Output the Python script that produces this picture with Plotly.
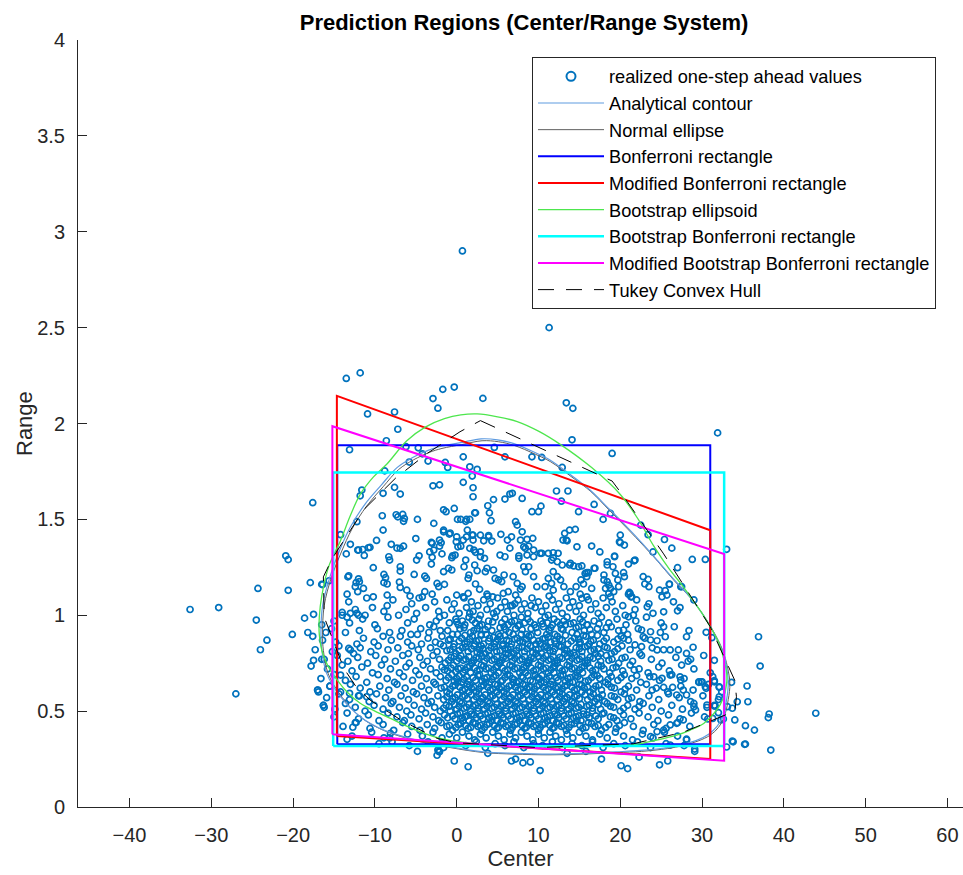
import plotly.graph_objects as go

# ---------------- data: realized one-step ahead values (Center, Range) ----------------
left_out = [(-32.6,1.03),(-29.1,1.04),(-27.0,0.59),(-24.5,0.975),(-24.3,1.14),(-24.0,0.82),(-23.2,0.87),
            (-20.9,1.31),(-20.6,1.29),(-20.6,1.13),(-20.1,0.90),(-18.6,0.985),(-18.2,0.91),(-17.9,1.17),
            (-17.6,0.89),(-17.5,1.005),(-17.8,0.735),(-17.5,0.765),(-17.0,0.61),(-16.9,0.60),(-16.3,0.53),
            (-16.2,0.52),(-16.4,1.16),(-16.5,0.95),(-16.5,0.77),(-15.5,0.63),(-17.6,1.587)]

upper = [(0.7,2.90),(11.3,2.50),(-13.5,2.235),(-11.8,2.264),(-10.9,2.05),(-7.6,2.06),(-2.9,2.13),(-2.3,2.08),
         (-1.7,2.178),(-0.3,2.19),(3.2,2.131),(13.4,2.108),(14.2,2.079),(-7.2,1.97),(-8.6,1.91),(-13.1,1.863),
         (31.9,1.951),(14.1,1.915),(19.0,1.844),(4.6,1.875),(0.8,1.826),(5.9,1.826),(9.2,1.826),(10.4,1.823),
         (12.9,1.771),(1.6,1.774),(2.5,1.761),(1.9,1.726),(0.8,1.693),(2.0,1.665),(2.0,1.618),(-6.2,1.879),
         (-4.7,1.873),(-4.2,1.842),(-5.8,1.799),(-3.5,1.804),(-1.1,1.771),(-1.4,1.797),(-8.8,1.753),(-2.9,1.675),
         (-2.1,1.68),(-7.6,1.667),(-6.9,1.632),(-9.0,1.636),(-11.8,1.623),(-11.6,1.653),(4.5,1.603),(5.9,1.606),
         (6.5,1.632),(6.8,1.636),(8.0,1.609),(12.2,1.648),(13.6,1.648),(16.8,1.578),(14.9,1.54),(17.9,1.50),
         (18.8,1.531),(22.5,1.47),(20.0,1.418),(25.4,1.395),(28.8,1.291),(30.4,1.291),(27.0,1.248),(33.0,1.344),
         (10.3,1.569),(9.2,1.54),(10.0,1.54),(3.8,1.571),(4.0,1.534),(2.3,1.534),(-0.3,1.557),(7.2,1.488),
         (7.4,1.47),(8.0,1.435),(5.4,1.422),(13.2,1.427),(13.8,1.444),(14.5,1.448),(13.5,1.388),(14.7,1.357),
         (16.5,1.361),(20.0,1.378),(20.5,1.366),(19.3,1.305),(21.7,1.284),(-12.2,1.488),(-9.1,1.519),(-9.0,1.444),
         (-7.4,1.524),(-6.6,1.526),(-6.4,1.505),(-7.2,1.513),(-6.5,1.49),(-4.8,1.50),(-2.8,1.479),(-1.6,1.435),
         (-0.8,1.429),(-1.3,1.54),(-1.6,1.55),(0.1,1.50),(0.5,1.50),(1.2,1.50),(1.6,1.50),(2.2,1.534),(1.1,1.49),
         (1.3,1.444),(2.0,1.392),(1.9,1.418),(4.2,1.493),(2.9,1.418),(3.3,1.388),(3.9,1.416),(2.3,1.328),
         (2.9,1.331),(-3.1,1.38),(-2.1,1.36),(-3.3,1.33),(-1.8,1.32),(-7.3,1.35),(-6.5,1.36),(-11.3,1.312),
         (-10.8,1.352),(-12.0,1.34),(11.8,1.30),(11.2,1.323),(10.4,1.323),(6.5,1.35),(8.8,1.36),(17.5,1.33),
         (24.0,1.33),(-5.0,1.40),(-14.2,1.42),(-13.5,1.32),(0.5,1.36),(7.6,1.31),(-0.5,1.31),(-4.6,1.31),
         (-9.8,1.39),(23.4,1.42),(26.3,1.35)]

mid_left = [(-13.3,1.20),(-11.9,1.175),(-12.4,1.149),(-11.4,1.14),(-12.1,1.123),(-13.4,1.11),(-10.2,1.096),
            (-10.2,1.248),(-12.1,1.34),(-11.5,1.343),(-10.6,1.354),(-13.0,1.37),(-8.0,1.37),(-6.9,1.349),
            (-8.3,1.305),(-8.2,1.288),(-8.9,1.213),(-8.7,1.196),(-8.9,1.17),(-8.5,1.163),(-6.9,1.253),(-6.9,1.23),
            (-6.1,1.131),(-7.0,1.173),(-6.9,1.145),(-4.9,1.288),(-5.2,1.213),(-3.9,1.204),(-3.7,1.192),(-3.0,1.302),
            (-3.1,1.267),(-2.1,1.392),(-1.9,1.378),(-3.0,1.375),(-2.8,1.34),(-1.6,1.444),(-0.9,1.423),(0.0,1.409),
            (-0.05,1.383),(-0.2,1.314),(0.15,1.357),(-0.6,1.30),(-1.0,1.245),(-0.6,1.236),(-1.6,1.227),(-2.4,1.166),
            (-2.2,1.149),(-1.5,1.161),(-3.9,1.123),(-3.0,1.11),(0.8,1.392),(1.2,1.409),(2.0,1.418),(1.6,1.349),
            (2.1,1.34),(1.1,1.288),(0.9,1.253),(2.2,1.262),(2.5,1.232),(1.5,1.21),(1.4,1.192),(2.3,1.163),
            (2.8,1.135),(2.9,1.305),(3.4,1.297),(3.7,1.245),(3.5,1.227),(4.5,1.236),(4.7,1.192),(5.1,1.184),
            (5.5,1.175),(5.8,1.21),(5.3,1.314),(5.9,1.305),(3.9,1.409),(4.3,1.387),(6.2,1.392),(6.7,1.409),
            (7.8,1.392),(8.2,1.357),(8.6,1.396),(9.3,1.401),(7.6,1.297),(8.2,1.253),(8.4,1.227),(6.9,1.201),
            (7.4,1.166),(8.0,1.149),(9.4,1.305),(8.8,1.253),(9.4,1.201),(9.8,1.149),(5.7,1.114),(6.3,1.123),
            (7.2,1.105),(7.8,1.135),(3.7,1.11),(4.4,1.096),(0.8,1.096),(1.4,1.114),(0.0,1.105),(-4.2,1.096),
            (-5.7,1.10),(-8.5,1.105),(-13.2,1.206),(-12.3,1.17),(-12.0,1.19),(-14.0,1.015),(-13.0,1.01),
            (-12.2,1.01),(-13.2,0.827),(-13.0,0.819),(-13.1,0.593),(-12.0,0.58),(-11.0,0.575),(-12.4,0.44),
            (-12.7,0.416),(-13.4,0.353),(-8.9,0.361),(-8.1,0.384),(-2.3,0.297),(-2.1,0.288),(-14.2,0.688),
            (-16.5,1.161),(-15.6,1.18)]

mid_right = [(12.8,1.595),(27.4,1.149),(26.0,1.163),(24.8,1.131),(25.5,1.128),(22.8,1.201),(23.4,1.187),
             (21.0,1.267),(21.8,1.288),(19.9,1.383),(19.3,1.309),(18.4,1.279),(19.1,1.253),(18.0,1.21),
             (18.4,1.175),(18.8,1.14),(19.4,1.218),(19.7,1.184),(20.4,1.222),(20.5,1.201),(19.8,1.149),
             (19.2,1.123),(21.0,1.11),(21.3,1.096),(16.9,1.245),(16.1,1.222),(15.2,1.184),(15.5,1.163),
             (14.6,1.149),(13.0,1.392),(13.4,1.392),(11.8,1.326),(12.4,1.323),(11.6,1.288),(12.3,1.279),
             (12.9,1.262),(13.8,1.262),(14.3,1.257),(14.9,1.253),(15.7,1.218),(15.9,1.201),(11.8,1.227),
             (12.3,1.201),(11.2,1.192),(11.6,1.166),(12.7,1.184),(10.8,1.149),(11.8,1.131),(13.1,1.149),
             (13.9,1.123),(15.1,1.11),(8.4,1.349),(9.4,1.34),(10.2,1.323),(8.6,1.314),(16.5,1.14),(18.2,1.14),
             (18.6,1.114),(18.8,1.096),(15.3,1.088),(15.9,1.096),(23.0,1.163),(23.5,1.149),(25.1,1.096),
             (25.7,1.105),(21.1,1.119),(18.0,1.184),(18.6,1.157),(16.8,1.245),(15.3,1.257),(15.9,1.222),
             (18.4,1.262),(13.9,1.271),(27.5,1.149)]

right_mid = [(23.3,1.044),(25.3,1.018),(25.3,0.94),(25.5,0.888),(26.1,0.819),(22.6,0.923),(23.7,0.914),
             (22.8,0.888),(23.7,0.871),(24.5,0.867),(24.5,0.819),(25.3,0.82),(27.1,0.819),(28.1,0.888),
             (28.9,0.833),(28.1,0.801),(28.6,0.77),(27.0,1.023),(26.0,1.161),(29.6,0.653),(30.0,0.653),
             (27.3,0.679),(27.4,0.662),(24.1,0.679),(25.1,0.671),(26.1,0.688),(23.9,0.61),(25.3,0.624),
             (26.4,0.624),(26.9,0.584),(27.7,0.61),(28.1,0.584),(29.0,0.523),(29.2,0.506),(30.4,0.627),
             (31.5,0.659),(32.1,0.627),(32.1,0.575),(31.6,0.527),(30.6,0.532),(27.7,0.454),(26.9,0.436),
             (26.1,0.428),(24.5,0.393),(25.3,0.401),(23.7,0.367),(28.1,0.354),(29.1,0.302),(26.1,0.323),
             (21.2,1.114),(21.4,1.096),(21.6,1.001),(21.0,0.992),(20.4,0.923),(20.4,0.88),(21.8,0.845),(22.6,0.836)]

right_out = [(36.9,0.888),(37.1,0.735),(30.5,0.911),(31.2,0.883),(31.5,0.765),(29.9,0.653),(30.5,0.619),
             (31.5,0.653),(32.1,0.624),(33.6,0.65),(35.5,0.631),(34.3,0.549),(35.6,0.549),(31.5,0.527),
             (33.1,0.523),(33.7,0.515),(32.0,0.492),(30.7,0.459),(31.3,0.462),(32.3,0.454),(32.6,0.459),
             (34.0,0.454),(35.3,0.424),(36.4,0.401),(38.2,0.485),(38.1,0.466),(43.9,0.489),(33.7,0.344),
             (33.0,0.313),(35.2,0.327),(38.4,0.297),(35.3,0.328),(33.8,0.34)]

b105 = [(-13.2,1.07),(-11.0,1.09),(-8.5,1.05),(-7.8,1.08),(-5.5,1.06),(-4.6,1.09),(-2.7,1.07),(-1.2,1.08),
        (-0.3,1.06),(0.9,1.09),(1.8,1.07),(2.6,1.05),(3.3,1.08),(3.8,1.10),(4.1,1.06),(5.0,1.09),(5.9,1.07),
        (6.8,1.05),(7.1,1.06),(7.5,1.08),(8.3,1.06),(9.2,1.09),(10.0,1.07),(10.9,1.05),(11.3,1.10),(11.7,1.08),
        (12.5,1.06),(13.4,1.09),(14.2,1.07),(15.0,1.05),(16.1,1.08),(17.0,1.06),(17.9,1.09),(19.0,1.07),
        (20.3,1.05),(22.0,1.08),(23.5,1.06),(26.5,1.07),(29.0,1.08)]

b100 = [(-14.0,1.00),(-13.4,0.99),(-12.4,1.03),(-12.0,1.00),(-11.2,1.00),(-10.3,1.04),(-8.9,1.02),(-7.1,1.00),
        (-6.2,1.03),(-4.9,1.01),(-3.8,1.04),(-2.2,1.02),(-1.5,1.00),(-0.6,1.03),(0.3,1.01),(1.2,1.04),(1.6,1.01),
        (2.0,1.02),(2.9,1.00),(3.7,1.03),(4.5,1.01),(4.9,1.02),(5.4,1.04),(6.2,1.02),(6.6,1.05),(7.0,1.00),
        (7.9,1.03),(8.7,1.01),(9.1,1.05),(9.6,1.04),(10.4,1.02),(11.2,1.00),(12.1,1.03),(12.9,1.01),(13.8,1.04),
        (14.6,1.02),(15.5,1.00),(16.4,1.03),(17.3,1.01),(18.3,1.04),(19.4,1.02),(20.6,1.00),(21.8,1.03),
        (24.0,1.01),(27.3,1.04)]

b095 = [(-15.0,0.97),(-13.1,0.96),(-11.5,0.98),(-10.0,0.95),(-8.4,0.99),(-6.0,0.96),(-5.2,0.98),(-3.3,0.95),
        (-2.5,0.97),(-2.1,0.99),(-0.9,0.96),(-0.1,0.98),(0.2,0.95),(0.7,0.97),(1.5,0.99),(2.3,0.96),(2.7,0.98),
        (3.1,0.95),(3.9,0.97),(4.7,0.99),(5.5,0.96),(5.9,0.98),(6.3,0.95),(7.1,0.97),(7.9,0.99),(8.3,0.96),
        (8.7,0.98),(9.5,0.95),(10.3,0.97),(10.8,0.99),(11.1,0.96),(11.9,0.98),(12.7,0.95),(13.1,0.97),
        (13.5,0.99),(14.3,0.96),(15.1,0.98),(15.9,0.95),(16.8,0.97),(17.7,0.99),(18.6,0.96),(19.6,0.98),
        (20.7,0.95),(21.9,0.97),(23.2,0.99),(25.0,0.96)]

b090 = [(-16.0,0.91),(-15.3,0.93),(-13.6,0.91),(-11.9,0.92),(-9.7,0.93),(-8.2,0.91),(-6.7,0.92),(-5.6,0.90),
        (-4.4,0.93),(-3.4,0.91),(-2.8,0.94),(-2.0,0.92),(-1.1,0.92),(-0.5,0.90),(0.4,0.93),(1.0,0.95),(1.7,0.91),
        (2.1,0.92),(2.5,0.93),(3.0,0.90),(3.8,0.94),(4.3,0.92),(5.1,0.90),(5.8,0.94),(6.4,0.91),(6.9,0.90),
        (7.2,0.93),(7.7,0.95),(8.5,0.90),(9.1,0.93),(9.9,0.91),(10.6,0.94),(11.3,0.92),(11.7,0.95),(12.0,0.90),
        (12.8,0.93),(13.3,0.95),(14.1,0.91),(14.9,0.94),(15.6,0.92),(16.0,0.95),(16.5,0.90),(17.2,0.93),
        (18.0,0.91),(18.9,0.94),(19.8,0.92),(20.9,0.90),(22.2,0.93),(24.9,0.91),(26.6,0.94),(28.4,0.92)]

b085 = [(-16.4,0.87),(-14.8,0.86),(-12.2,0.85),(-11.4,0.88),(-10.1,0.86),(-9.0,0.89),(-8.0,0.87),(-6.9,0.89),
        (-6.0,0.86),(-4.8,0.90),(-4.3,0.85),(-3.5,0.88),(-2.6,0.86),(-1.8,0.89),(-1.0,0.87),(-0.3,0.85),
        (0.1,0.90),(0.6,0.88),(1.3,0.86),(1.9,0.89),(2.2,0.85),(2.7,0.87),(3.3,0.85),(3.6,0.90),(4.0,0.88),
        (4.8,0.86),(5.3,0.89),(5.7,0.85),(6.1,0.87),(6.7,0.85),(7.4,0.88),(7.9,0.90),(8.1,0.86),(8.8,0.89),
        (9.4,0.87),(9.7,0.85),(10.2,0.85),(10.8,0.88),(11.0,0.90),(11.5,0.86),(12.3,0.89),(12.9,0.87),
        (13.6,0.85),(14.4,0.88),(14.7,0.90),(15.1,0.86),(15.8,0.89),(16.2,0.85),(16.7,0.87),(17.5,0.85),
        (18.3,0.88),(19.2,0.86),(20.1,0.89),(21.0,0.87),(23.0,0.88)]

b080 = [(-17.3,0.82),(-15.2,0.81),(-14.4,0.84),(-12.6,0.80),(-11.8,0.83),(-10.5,0.81),(-9.6,0.84),(-8.4,0.82),
        (-7.2,0.83),(-5.9,0.80),(-5.5,0.84),(-4.7,0.82),(-3.2,0.83),(-2.4,0.81),(-2.0,0.85),(-1.6,0.84),
        (-0.8,0.82),(-0.1,0.80),(0.7,0.83),(1.0,0.85),(1.4,0.81),(2.1,0.84),(2.8,0.82),(3.0,0.84),(3.5,0.80),
        (4.2,0.83),(4.6,0.85),(4.9,0.81),(5.6,0.84),(6.0,0.80),(6.3,0.82),(7.0,0.80),(7.6,0.83),(8.3,0.81),
        (8.7,0.85),(9.0,0.84),(9.7,0.82),(10.4,0.80),(10.9,0.84),(11.1,0.83),(11.8,0.81),(12.1,0.85),
        (12.5,0.84),(13.2,0.82),(13.9,0.80),(14.6,0.83),(15.0,0.85),(15.3,0.81),(16.0,0.84),(16.8,0.82),
        (17.6,0.80),(18.4,0.83),(18.9,0.80),(19.3,0.81),(20.2,0.84),(21.2,0.82),(22.4,0.80),(23.9,0.83)]

b075 = [(-16.2,0.77),(-14.6,0.79),(-13.3,0.76),(-12.1,0.78),(-10.9,0.75),(-9.9,0.79),(-8.8,0.77),(-7.5,0.76),
        (-6.6,0.79),(-5.8,0.75),(-4.5,0.78),(-3.6,0.76),(-2.9,0.79),(-2.1,0.77),(-1.4,0.75),(-0.7,0.78),
        (0.0,0.76),(0.5,0.79),(1.1,0.77),(1.8,0.75),(2.4,0.78),(2.9,0.80),(3.4,0.76),(4.0,0.79),(4.6,0.77),
        (5.2,0.75),(5.7,0.78),(6.3,0.80),(6.8,0.76),(7.4,0.79),(8.0,0.77),(8.6,0.75),(9.1,0.78),(9.7,0.80),
        (10.3,0.76),(10.9,0.79),(11.5,0.77),(12.0,0.75),(12.6,0.78),(13.2,0.80),(13.8,0.76),(14.4,0.79),
        (15.0,0.77),(15.7,0.75),(16.3,0.78),(17.0,0.80),(17.6,0.76),(18.3,0.79),(19.0,0.77),(19.8,0.75),
        (20.6,0.78),(21.5,0.76),(22.6,0.79),(23.8,0.77),(25.1,0.75),(26.8,0.78),(28.3,0.76),(30.2,0.79)]

b070 = [(-15.8,0.72),(-14.0,0.74),(-12.8,0.71),(-11.6,0.73),(-10.3,0.70),(-9.2,0.74),(-8.1,0.72),(-7.0,0.70),
        (-6.2,0.73),(-5.0,0.71),(-4.1,0.74),(-3.2,0.72),(-2.5,0.70),(-1.8,0.73),(-1.1,0.71),(-0.4,0.74),
        (0.2,0.72),(0.8,0.70),(1.3,0.73),(1.9,0.75),(2.5,0.71),(3.0,0.74),(3.6,0.72),(4.2,0.70),(4.8,0.73),
        (5.3,0.75),(5.9,0.71),(6.5,0.74),(7.1,0.72),(7.7,0.70),(8.2,0.73),(8.8,0.75),(9.4,0.71),(10.0,0.74),
        (10.6,0.72),(11.2,0.70),(11.8,0.73),(12.3,0.75),(12.9,0.71),(13.5,0.74),(14.1,0.72),(14.7,0.70),
        (15.3,0.73),(16.0,0.75),(16.6,0.71),(17.3,0.74),(18.0,0.72),(18.7,0.70),(19.5,0.73),(20.3,0.71),
        (21.2,0.74),(22.3,0.72),(23.4,0.70),(24.7,0.73),(26.0,0.71),(27.5,0.74),(29.0,0.72),(31.0,0.70)]

b065 = [(-16.6,0.67),(-15.0,0.69),(-13.6,0.66),(-12.3,0.68),(-11.0,0.65),(-9.6,0.69),(-8.5,0.67),(-7.6,0.65),
        (-6.5,0.68),(-5.4,0.66),(-4.6,0.69),(-3.7,0.67),(-2.8,0.65),(-2.0,0.68),(-1.3,0.66),(-0.6,0.69),
        (0.0,0.67),(0.6,0.65),(1.2,0.68),(1.7,0.70),(2.3,0.66),(2.8,0.69),(3.4,0.67),(4.0,0.65),(4.5,0.68),
        (5.1,0.70),(5.6,0.66),(6.2,0.69),(6.8,0.67),(7.3,0.65),(7.9,0.68),(8.4,0.70),(9.0,0.66),(9.6,0.69),
        (10.1,0.67),(10.7,0.65),(11.3,0.68),(11.9,0.70),(12.4,0.66),(13.0,0.69),(13.6,0.67),(14.2,0.65),
        (14.8,0.68),(15.4,0.70),(16.1,0.66),(16.8,0.69),(17.5,0.67),(18.2,0.65),(18.9,0.68),(19.7,0.66),
        (20.5,0.69),(21.4,0.67),(22.5,0.65),(23.6,0.68),(24.8,0.66),(26.3,0.69),(27.8,0.67),(29.6,0.65),(31.3,0.68)]

b060 = [(-17.0,0.61),(-15.5,0.63),(-14.2,0.60),(-13.0,0.64),(-11.8,0.62),(-10.6,0.60),(-9.4,0.63),(-8.3,0.61),
        (-7.3,0.64),(-6.3,0.62),(-5.3,0.60),(-4.3,0.63),(-3.4,0.61),(-2.6,0.64),(-1.9,0.62),(-1.2,0.60),
        (-0.5,0.63),(0.1,0.65),(0.7,0.61),(1.3,0.64),(1.8,0.62),(2.4,0.60),(3.0,0.63),(3.5,0.65),(4.1,0.61),
        (4.7,0.64),(5.2,0.62),(5.8,0.60),(6.4,0.63),(6.9,0.65),(7.5,0.61),(8.1,0.64),(8.6,0.62),(9.2,0.60),
        (9.8,0.63),(10.3,0.65),(10.9,0.61),(11.5,0.64),(12.1,0.62),(12.6,0.60),(13.2,0.63),(13.8,0.65),
        (14.4,0.61),(15.0,0.64),(15.6,0.62),(16.3,0.60),(17.0,0.63),(17.7,0.61),(18.5,0.64),(19.3,0.62),
        (20.1,0.60),(21.0,0.63),(22.0,0.61),(23.2,0.64),(24.4,0.62),(25.8,0.60),(27.4,0.63),(28.9,0.61),
        (30.8,0.64),(32.4,0.60)]

b055 = [(-15.9,0.57),(-14.4,0.59),(-13.1,0.56),(-11.9,0.58),(-10.7,0.55),(-9.8,0.59),(-8.7,0.57),(-7.8,0.55),
        (-6.8,0.58),(-5.9,0.56),(-4.9,0.59),(-4.0,0.57),(-3.1,0.55),(-2.3,0.58),(-1.6,0.56),(-0.9,0.59),
        (-0.2,0.57),(0.4,0.55),(1.0,0.58),(1.5,0.60),(2.1,0.56),(2.7,0.59),(3.2,0.57),(3.8,0.55),(4.4,0.58),
        (4.9,0.60),(5.5,0.56),(6.1,0.59),(6.6,0.57),(7.2,0.55),(7.8,0.58),(8.3,0.60),(8.9,0.56),(9.5,0.59),
        (10.0,0.57),(10.6,0.55),(11.2,0.58),(11.7,0.60),(12.3,0.56),(12.9,0.59),(13.5,0.57),(14.1,0.55),
        (14.7,0.58),(15.3,0.60),(16.0,0.56),(16.7,0.59),(17.4,0.57),(18.1,0.55),(18.9,0.58),(19.7,0.56),
        (20.5,0.59),(21.4,0.57),(22.4,0.55),(23.5,0.58),(24.7,0.56),(25.9,0.59),(27.2,0.57),(28.6,0.55),
        (30.1,0.58),(32.0,0.56)]

b050 = [(-16.3,0.53),(-14.9,0.51),(-13.6,0.54),(-12.4,0.52),(-11.2,0.50),(-10.1,0.53),(-9.0,0.51),(-8.0,0.54),
        (-7.0,0.52),(-6.1,0.50),(-5.2,0.53),(-4.3,0.51),(-3.5,0.54),(-2.7,0.52),(-2.0,0.50),(-1.3,0.53),
        (-0.6,0.55),(0.0,0.51),(0.6,0.54),(1.2,0.52),(1.7,0.50),(2.3,0.53),(2.9,0.55),(3.4,0.51),(4.0,0.54),
        (4.6,0.52),(5.1,0.50),(5.7,0.53),(6.3,0.55),(6.8,0.51),(7.4,0.54),(8.0,0.52),(8.5,0.50),(9.1,0.53),
        (9.7,0.55),(10.2,0.51),(10.8,0.54),(11.4,0.52),(11.9,0.50),(12.5,0.53),(13.1,0.55),(13.7,0.51),
        (14.3,0.54),(14.9,0.52),(15.5,0.50),(16.2,0.53),(16.9,0.55),(17.6,0.51),(18.4,0.54),(19.2,0.52),
        (20.0,0.50),(20.9,0.53),(21.8,0.51),(22.8,0.54),(23.9,0.52),(25.0,0.50),(26.3,0.53),(27.6,0.51),
        (29.0,0.54),(30.6,0.52),(31.5,0.53)]

b045 = [(-15.0,0.47),(-13.4,0.49),(-12.0,0.46),(-10.8,0.48),(-9.5,0.45),(-8.4,0.49),(-7.3,0.47),(-6.4,0.45),
        (-5.6,0.48),(-4.6,0.46),(-3.8,0.49),(-2.9,0.47),(-2.2,0.45),(-1.5,0.48),(-0.8,0.50),(-0.2,0.46),
        (0.4,0.49),(1.0,0.47),(1.5,0.45),(2.1,0.48),(2.6,0.50),(3.2,0.46),(3.8,0.49),(4.3,0.47),(4.9,0.45),
        (5.5,0.48),(6.0,0.50),(6.6,0.46),(7.2,0.49),(7.7,0.47),(8.3,0.45),(8.9,0.48),(9.4,0.50),(10.0,0.46),
        (10.6,0.49),(11.1,0.47),(11.7,0.45),(12.3,0.48),(12.8,0.50),(13.4,0.46),(14.0,0.49),(14.6,0.47),
        (15.2,0.45),(15.9,0.48),(16.6,0.50),(17.3,0.46),(18.0,0.49),(18.8,0.47),(19.6,0.45),(20.4,0.48),
        (21.3,0.46),(22.3,0.49),(23.4,0.47),(24.6,0.45),(25.9,0.48),(27.3,0.46),(28.7,0.49),(30.3,0.47)]

b040 = [(-13.9,0.42),(-12.3,0.44),(-10.6,0.41),(-9.0,0.43),(-7.7,0.40),(-6.6,0.44),(-5.5,0.42),(-4.5,0.40),
        (-3.6,0.43),(-2.7,0.41),(-1.9,0.44),(-1.2,0.42),(-0.5,0.40),(0.2,0.43),(0.8,0.45),(1.4,0.41),(2.0,0.44),
        (2.6,0.42),(3.1,0.40),(3.7,0.43),(4.3,0.45),(4.9,0.41),(5.4,0.44),(6.0,0.42),(6.6,0.40),(7.1,0.43),
        (7.7,0.45),(8.3,0.41),(8.8,0.44),(9.4,0.42),(10.0,0.40),(10.5,0.43),(11.1,0.45),(11.7,0.41),(12.2,0.44),
        (12.8,0.42),(13.4,0.40),(14.0,0.43),(14.7,0.45),(15.4,0.41),(16.1,0.44),(16.9,0.42),(17.7,0.40),
        (18.6,0.43),(19.5,0.41),(20.5,0.44),(21.6,0.42),(22.8,0.40),(24.1,0.43),(25.6,0.41),(27.0,0.44),(28.5,0.42)]

b035 = [(-12.8,0.37),(-10.4,0.39),(-8.2,0.36),(-6.0,0.38),(-4.2,0.37),(-2.9,0.39),(-1.8,0.36),(-0.9,0.38),
        (0.0,0.36),(0.7,0.39),(1.5,0.37),(2.2,0.35),(2.9,0.38),(3.6,0.36),(4.4,0.39),(5.1,0.37),(5.8,0.35),
        (6.5,0.38),(7.2,0.36),(7.9,0.39),(8.6,0.37),(9.3,0.35),(10.0,0.38),(10.7,0.36),(11.4,0.39),(12.1,0.37),
        (12.8,0.35),(13.5,0.38),(14.2,0.36),(15.0,0.39),(15.8,0.37),(16.6,0.35),(17.5,0.38),(18.4,0.36),
        (19.4,0.39),(20.4,0.37),(21.5,0.35),(22.7,0.38),(24.0,0.36),(25.4,0.39),(27.0,0.37),(28.1,0.35)]

b030 = [(-9.5,0.33),(-7.9,0.34),(-5.8,0.32),(-3.5,0.34),(-1.6,0.31),(-0.2,0.33),(1.1,0.32),(2.4,0.34),(3.5,0.31),
        (4.7,0.33),(5.9,0.32),(7.0,0.34),(8.2,0.31),(9.4,0.33),(10.5,0.32),(11.7,0.34),(12.9,0.31),(14.1,0.33),
        (15.3,0.32),(16.6,0.34),(17.9,0.31),(19.2,0.33),(20.6,0.32),(22.1,0.34),(23.7,0.31),(25.6,0.33),(27.8,0.32)]

b020 = [(-2.4,0.27),(-2.2,0.29),(-0.3,0.24),(1.4,0.21),(6.7,0.24),(7.2,0.25),(8.1,0.23),(9.0,0.235),(10.2,0.19),
        (17.7,0.25),(20.1,0.215),(20.9,0.20),(22.3,0.26),(24.8,0.22),(25.8,0.24),(29.1,0.29),(-4.8,0.29),
        (13.5,0.28),(3.8,0.28),(15.8,0.29)]

# dense core (second layer of values read in the darkest part of the cloud)
core_a = [(0.0,0.965),(0.9,0.935),(1.9,0.975),(2.8,0.945),(3.5,0.925),(4.4,0.965),(5.3,0.935),(6.0,0.925),
          (6.7,0.965),(7.5,0.945),(8.0,0.925),(9.0,0.965),(9.7,0.935),(10.5,0.955),(11.5,0.935),(12.3,0.965),
          (13.0,0.925),(13.9,0.955),(14.6,0.935),(15.4,0.965),(16.3,0.925),(17.4,0.955),(18.3,0.935)]
core_b = [(-0.8,0.875),(0.3,0.865),(1.0,0.895),(1.6,0.875),(2.4,0.865),(3.0,0.895),(3.9,0.865),(4.5,0.885),
          (5.0,0.875),(5.9,0.895),(6.4,0.865),(7.1,0.875),(7.7,0.865),(8.5,0.875),(9.1,0.895),(10.0,0.865),
          (10.5,0.875),(11.2,0.885),(12.0,0.865),(12.6,0.875),(13.3,0.895),(14.0,0.865),(14.9,0.875),
          (15.5,0.895),(16.4,0.865),(17.2,0.895),(18.0,0.865),(19.7,0.875)]
core_c = [(-1.2,0.815),(-0.4,0.835),(0.3,0.815),(1.1,0.835),(1.8,0.825),(2.5,0.805),(3.2,0.825),(3.9,0.815),
          (4.6,0.835),(5.3,0.815),(5.9,0.825),(6.6,0.835),(7.3,0.815),(8.0,0.835),(8.6,0.825),(9.3,0.805),
          (10.0,0.825),(10.7,0.835),(11.4,0.815),(12.0,0.825),(12.8,0.835),(13.5,0.815),(14.3,0.805),
          (15.0,0.825),(15.7,0.835),(16.4,0.815),(17.3,0.825),(18.1,0.835),(19.7,0.825)]
core_d = [(-1.0,0.765),(-0.3,0.785),(0.3,0.775),(0.8,0.765),(1.5,0.785),(2.1,0.765),(2.7,0.775),(3.1,0.785),
          (3.7,0.775),(4.3,0.765),(4.9,0.785),(5.5,0.765),(6.0,0.775),(6.6,0.785),(7.1,0.775),(7.7,0.765),
          (8.3,0.785),(8.9,0.765),(9.4,0.775),(10.0,0.785),(10.6,0.775),(11.2,0.765),(11.8,0.785),(12.3,0.765),
          (12.9,0.775),(13.5,0.785),(14.1,0.775),(14.7,0.765),(15.3,0.785),(16.0,0.765),(16.7,0.775),
          (17.3,0.785),(18.6,0.765),(20.2,0.775)]
core_e = [(-1.5,0.715),(-0.7,0.725),(-0.1,0.705),(0.5,0.725),(1.0,0.715),(1.6,0.735),(2.2,0.725),(2.8,0.715),
          (3.3,0.735),(3.9,0.725),(4.5,0.715),(5.0,0.735),(5.6,0.725),(6.2,0.715),(6.8,0.735),(7.4,0.725),
          (8.0,0.715),(8.5,0.735),(9.1,0.725),(9.7,0.715),(10.3,0.735),(10.9,0.725),(11.5,0.715),(12.0,0.735),
          (12.6,0.725),(13.2,0.715),(13.8,0.735),(14.4,0.725),(15.0,0.715),(15.6,0.735),(16.3,0.725),
          (17.0,0.715),(17.7,0.735),(19.1,0.725),(21.7,0.715)]
core_f = [(-1.0,0.675),(-0.3,0.655),(0.3,0.685),(0.9,0.665),(1.4,0.655),(2.0,0.675),(2.6,0.685),(3.1,0.655),
          (3.7,0.675),(4.3,0.665),(4.8,0.685),(5.4,0.655),(5.9,0.675),(6.5,0.685),(7.0,0.665),(7.6,0.655),
          (8.1,0.675),(8.7,0.685),(9.3,0.655),(9.9,0.675),(10.4,0.685),(11.0,0.665),(11.6,0.655),(12.2,0.675),
          (12.7,0.685),(13.3,0.655),(13.9,0.675),(14.5,0.685),(15.1,0.665),(15.7,0.655),(16.5,0.675),
          (17.2,0.685),(18.5,0.665),(20.1,0.675),(22.0,0.685)]
core_g = [(-1.5,0.625),(-0.8,0.615),(-0.2,0.635),(0.4,0.625),(1.0,0.615),(1.6,0.635),(2.1,0.625),(2.7,0.615),
          (3.3,0.635),(3.8,0.625),(4.4,0.615),(5.0,0.635),(5.5,0.625),(6.1,0.615),(6.7,0.635),(7.2,0.625),
          (7.8,0.615),(8.4,0.635),(8.9,0.625),(9.5,0.615),(10.1,0.635),(10.6,0.625),(11.2,0.615),(11.8,0.635),
          (12.4,0.625),(12.9,0.615),(13.5,0.635),(14.1,0.625),(14.7,0.615),(15.3,0.635),(16.0,0.625),
          (16.7,0.615),(17.4,0.635),(18.9,0.625),(20.6,0.615)]
core_h = [(-1.2,0.575),(-0.5,0.565),(0.1,0.585),(0.7,0.575),(1.3,0.565),(1.8,0.585),(2.4,0.575),(3.0,0.565),
          (3.5,0.585),(4.1,0.575),(4.7,0.565),(5.2,0.585),(5.8,0.575),(6.4,0.565),(6.9,0.585),(7.5,0.575),
          (8.1,0.565),(8.6,0.585),(9.2,0.575),(9.8,0.565),(10.3,0.585),(10.9,0.575),(11.5,0.565),(12.0,0.585),
          (12.6,0.575),(13.2,0.565),(13.8,0.585),(14.4,0.575),(15.0,0.565),(15.7,0.585),(16.4,0.575),
          (17.1,0.565),(17.8,0.585),(19.3,0.575),(21.0,0.565)]
core_i = [(-1.6,0.515),(-0.9,0.525),(-0.3,0.535),(0.3,0.525),(0.9,0.515),(1.5,0.535),(2.0,0.525),(2.6,0.515),
          (3.2,0.535),(3.7,0.525),(4.3,0.515),(4.9,0.535),(5.4,0.525),(6.0,0.515),(6.6,0.535),(7.1,0.525),
          (7.7,0.515),(8.3,0.535),(8.8,0.525),(9.4,0.515),(10.0,0.535),(10.5,0.525),(11.1,0.515),(11.7,0.535),
          (12.2,0.525),(12.8,0.515),(13.4,0.535),(14.0,0.525),(14.6,0.515),(15.2,0.535),(15.9,0.525),
          (16.6,0.515),(17.3,0.535),(18.8,0.525),(20.4,0.515),(22.3,0.525)]
core_j = [(-1.1,0.465),(-0.5,0.475),(0.1,0.485),(0.7,0.465),(1.2,0.475),(1.8,0.485),(2.4,0.465),(2.9,0.475),
          (3.5,0.485),(4.0,0.465),(4.6,0.475),(5.2,0.485),(5.7,0.465),(6.3,0.475),(6.9,0.485),(7.4,0.465),
          (8.0,0.475),(8.6,0.485),(9.1,0.465),(9.7,0.475),(10.3,0.485),(10.8,0.465),(11.4,0.475),(12.0,0.485),
          (12.5,0.465),(13.1,0.475),(13.7,0.485),(14.3,0.465),(14.9,0.475),(15.5,0.485),(16.2,0.465),
          (17.0,0.475),(17.8,0.485),(19.2,0.465)]
core_k = [(-0.9,0.425),(-0.1,0.415),(0.5,0.435),(1.1,0.425),(1.7,0.415),(2.3,0.435),(2.9,0.425),(3.4,0.415),
          (4.0,0.435),(4.6,0.425),(5.1,0.415),(5.7,0.435),(6.3,0.425),(6.8,0.415),(7.4,0.435),(8.0,0.425),
          (8.5,0.415),(9.1,0.435),(9.7,0.425),(10.2,0.415),(10.8,0.435),(11.4,0.425),(11.9,0.415),(12.5,0.435),
          (13.1,0.425),(13.7,0.415),(14.4,0.435),(15.1,0.425),(15.8,0.415),(16.5,0.435),(17.3,0.425),
          (18.2,0.415),(19.9,0.425)]

# ---------------- data: prediction regions (Center, Range) vertices ----------------
analytical = [(-16.6,0.90),(-16.4,1.05),(-15.5,1.20),(-14.3,1.34),(-13.0,1.46),(-11.2,1.58),(-9.2,1.68),(-7.3,1.77),
              (-5.5,1.82),(-3.5,1.86),(-2.0,1.88),(0.5,1.90),(3.0,1.92),(5.0,1.915),(6.9,1.896),(9.5,1.85),
              (11.4,1.81),(14.0,1.73),(16.3,1.653),(18.5,1.56),(20.8,1.461),(22.8,1.37),(24.5,1.288),(26.5,1.19),
              (28.5,1.096),(30.0,1.01),(31.3,0.92),(32.4,0.82),(33.0,0.73),(33.2,0.645),(33.0,0.56),(32.5,0.47),
              (31.8,0.419),(30.8,0.38),(29.4,0.349),(27.5,0.325),(25.7,0.309),(22.5,0.295),(19.6,0.288),
              (15.5,0.28),(11.4,0.276),(7.0,0.28),(3.3,0.288),(-0.8,0.314),(-4.9,0.349),(-8.9,0.401),
              (-11.8,0.471),(-14.2,0.575),(-15.9,0.697),(-16.5,0.819),(-16.6,0.90)]

normal_ellipse = [(-16.4,0.90),(-16.2,1.05),(-15.3,1.20),(-14.1,1.33),(-12.8,1.45),(-11.0,1.57),(-9.0,1.67),
                  (-7.1,1.76),(-5.3,1.81),(-3.3,1.85),(-1.8,1.87),(0.6,1.89),(3.1,1.91),(5.1,1.905),(7.0,1.886),
                  (9.6,1.84),(11.5,1.80),(14.1,1.72),(16.4,1.645),(18.6,1.55),(20.9,1.45),(22.9,1.36),(24.6,1.28),
                  (26.6,1.18),(28.6,1.09),(30.1,1.005),(31.4,0.915),(32.5,0.82),(33.1,0.73),(33.4,0.645),(33.2,0.56),
                  (32.7,0.47),(32.0,0.415),(31.0,0.375),(29.5,0.344),(27.6,0.32),(25.8,0.305),(22.6,0.29),
                  (19.6,0.284),(15.5,0.276),(11.4,0.272),(7.0,0.276),(3.3,0.284),(-0.8,0.31),(-4.9,0.345),
                  (-8.8,0.397),(-11.7,0.467),(-14.0,0.572),(-15.7,0.694),(-16.3,0.817),(-16.4,0.90)]

bonferroni = [(-14.6,0.327),(-14.6,1.887),(31.0,1.887),(31.0,0.327),(-14.6,0.327)]
mod_bonferroni = [(-14.65,0.370),(-14.65,2.144),(31.0,1.443),(31.0,0.250),(-14.65,0.370)]
boot_ellipsoid = [(-16.8,0.99),(-16.5,1.10),(-15.6,1.26),(-14.2,1.39),(-13.0,1.52),(-11.8,1.63),(-10.2,1.72),
                  (-8.5,1.79),(-6.1,1.91),(-3.9,1.98),(-1.5,2.025),(0.5,2.045),(2.5,2.05),(5.0,2.035),(7.4,2.01),
                  (10.0,1.96),(12.7,1.89),(16.5,1.77),(20.0,1.63),(22.2,1.50),(24.1,1.36),(26.0,1.24),(27.5,1.16),
                  (28.5,1.10),(30.0,1.01),(31.0,0.94),(32.0,0.86),(32.6,0.78),(33.0,0.70),(33.0,0.645),(32.6,0.57),
                  (31.8,0.506),(30.2,0.436),(28.5,0.40),(26.9,0.375),(24.0,0.345),(22.0,0.327),(18.0,0.318),
                  (14.0,0.313),(11.0,0.314),(7.0,0.318),(3.3,0.327),(-0.5,0.345),(-2.8,0.367),(-5.5,0.41),
                  (-8.1,0.462),(-10.0,0.50),(-11.8,0.541),(-13.4,0.60),(-14.6,0.662),(-15.8,0.74),(-16.5,0.819),
                  (-16.8,0.90),(-16.8,0.99)]
boot_bonferroni = [(-15.1,0.318),(-15.1,1.745),(32.7,1.745),(32.7,0.318),(-15.1,0.318)]
mod_boot_bonferroni = [(-15.2,0.379),(-15.2,1.986),(32.7,1.319),(32.7,0.241),(-15.2,0.379)]
tukey_hull = [(2.9,2.015),(19.0,1.70),(20.4,1.62),(25.3,1.32),(31.0,0.94),(34.0,0.66),(34.2,0.575),(34.0,0.50),
              (27.7,0.39),(21.6,0.33),(10.0,0.31),(0.0,0.335),(-2.4,0.358),(-6.7,0.45),(-10.6,0.558),
              (-12.3,0.627),(-13.8,0.723),(-15.5,0.906),(-16.2,0.99),(-16.3,1.20),(-15.3,1.29),(-14.3,1.357),
              (-11.4,1.549),(-7.5,1.714),(-3.6,1.844),(0.4,1.957),(2.9,2.015)]

x_ticks = [-40, -30, -20, -10, 0, 10, 20, 30, 40, 50, 60]
y_ticks = [0, 0.5, 1, 1.5, 2, 2.5, 3, 3.5, 4]
y_ticktext = ["0", "0.5", "1", "1.5", "2", "2.5", "3", "3.5", "4"]

# ---------------- figure ----------------
groups = [left_out, upper, mid_left, mid_right, right_mid, right_out, b105, b100, b095, b090, b085,
          b080, b075, b070, b065, b060, b055, b050, b045, b040, b035, b030, b020,
          core_a, core_b, core_c, core_d, core_e, core_f, core_g, core_h, core_i, core_j, core_k]
pts = [p for g in groups for p in g]
center = [p[0] for p in pts]
rng = [p[1] for p in pts]

BLUE = "#0072BD"
fig = go.Figure()

fig.add_trace(go.Scatter(x=center, y=rng, mode="markers", showlegend=False, hoverinfo="skip",
                         marker=dict(symbol="circle-open", size=6, color=BLUE, line=dict(width=1.7, color=BLUE))))
# legend proxy for the markers (no data)
fig.add_trace(go.Scatter(x=[None], y=[None], mode="markers", name="realized one-step ahead values",
                         marker=dict(symbol="circle-open", size=9, color=BLUE, line=dict(width=2, color=BLUE))))

def add_line(pts_, name, color, width, dash="solid", shape="linear"):
    fig.add_trace(go.Scatter(x=[p[0] for p in pts_], y=[p[1] for p in pts_], mode="lines", name=name,
                             line=dict(color=color, width=width, dash=dash, shape=shape), hoverinfo="skip"))

add_line(normal_ellipse, "Normal ellipse", "#606060", 1, shape="spline")
add_line(analytical, "Analytical contour", "#5E9BE0", 1.2, shape="spline")
add_line(bonferroni, "Bonferroni rectangle", "#0000FF", 2)
add_line(mod_bonferroni, "Modified Bonferroni rectangle", "#FF0000", 2)
add_line(boot_ellipsoid, "Bootstrap ellipsoid", "#4DE64D", 1.3, shape="spline")
add_line(boot_bonferroni, "Bootstrap Bonferroni rectangle", "#00FFFF", 2.5)
add_line(mod_boot_bonferroni, "Modified Bootstrap Bonferroni rectangle", "#FF00FF", 2)
add_line(tukey_hull, "Tukey Convex Hull", "#000000", 1, dash="16px,12px")

order = ["realized one-step ahead values", "Analytical contour", "Normal ellipse", "Bonferroni rectangle",
         "Modified Bonferroni rectangle", "Bootstrap ellipsoid", "Bootstrap Bonferroni rectangle",
         "Modified Bootstrap Bonferroni rectangle", "Tukey Convex Hull"]
for tr in fig.data:
    if tr.name in order:
        tr.legendrank = order.index(tr.name) + 1

AX = "#262626"
FONT = "Liberation Sans, Arial, Helvetica, sans-serif"
fig.update_layout(
    width=963, height=875,
    margin=dict(l=78, r=0, t=40, b=68, pad=0),
    paper_bgcolor="white", plot_bgcolor="white",
    font=dict(family=FONT, color=AX, size=20),
    title=dict(text="<b>Prediction Regions (Center/Range System)</b>", x=0.504, xref="paper",
               y=1 - 22 / 875, yref="container", xanchor="center", yanchor="middle",
               font=dict(size=22, color="#000000", family=FONT)),
    xaxis=dict(range=[-46.3, 61.9], tickvals=x_ticks, ticks="inside", ticklen=9, tickcolor=AX, tickwidth=1,
               showline=True, linecolor=AX, linewidth=1, showgrid=False, zeroline=False,
               tickfont=dict(size=20, color=AX), ticklabelstandoff=10,
               title=dict(text="Center", font=dict(size=22, color=AX), standoff=4)),
    yaxis=dict(range=[0, 4], tickvals=y_ticks, ticktext=y_ticktext, ticks="inside", ticklen=9, tickcolor=AX,
               tickwidth=1, showline=True, linecolor=AX, linewidth=1, showgrid=False, zeroline=False,
               tickfont=dict(size=20, color=AX), ticklabelstandoff=8),
    annotations=[dict(text="Range", xref="paper", yref="paper", x=(25 - 78) / 885, y=(807 - 424) / 767,
                      xanchor="center", yanchor="middle", textangle=-90, showarrow=False,
                      font=dict(size=22, color=AX, family=FONT))],
    legend=dict(x=(532 - 78) / 885, y=(807 - 57) / 767, xanchor="left", yanchor="top",
                bgcolor="white", bordercolor=AX, borderwidth=1, itemwidth=66,
                font=dict(size=18.2, color="#000000", family=FONT), tracegroupgap=0),
    showlegend=True,
)

fig.write_html("out.html")
